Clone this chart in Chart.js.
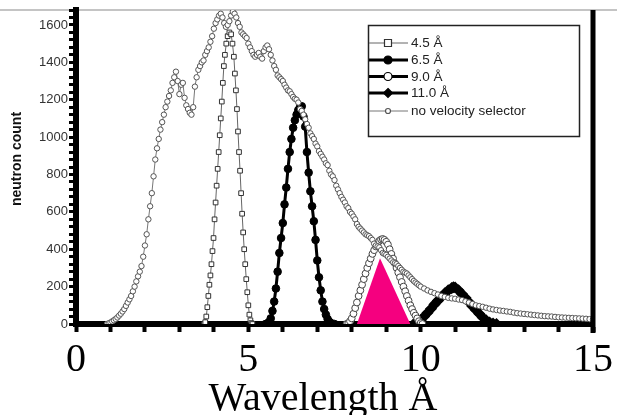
<!DOCTYPE html>
<html>
<head>
<meta charset="utf-8">
<script src="https://cdn.jsdelivr.net/npm/chart.js@4.4.1/dist/chart.umd.min.js"></script>
<style>
  html, body { margin: 0; padding: 0; background: #fff; }
  #wrap { width: 617px; height: 415px; }
</style>
</head>
<body>
<div id="wrap"><canvas id="chart" width="617" height="415"></canvas></div>
<script>
// ── Data ────────────────────────────────────────────────────────────────────
const xTickLabels = [0, 5, 10, 15];
const yTickLabels = [0, 200, 400, 600, 800, 1000, 1200, 1400, 1600];

const legendLabels = ['4.5 Å', '6.5 Å', '9.0 Å', '11.0 Å', 'no velocity selector'];

// no velocity selector
const noSelX = [0.9, 0.95, 1.0, 1.05, 1.1, 1.15, 1.2, 1.25, 1.3, 1.35, 1.4, 1.45, 1.5, 1.55, 1.6, 1.65, 1.7, 1.75, 1.8, 1.85,
  1.9, 1.95, 2.0, 2.05, 2.1, 2.15, 2.2, 2.25, 2.3, 2.35, 2.4, 2.45, 2.5, 2.55, 2.6, 2.65, 2.7, 2.75, 2.8, 2.85,
  2.9, 2.95, 3.0, 3.05, 3.1, 3.15, 3.2, 3.25, 3.3, 3.35, 3.4, 3.45, 3.5, 3.55, 3.6, 3.65, 3.7, 3.75, 3.8, 3.85,
  3.9, 3.95, 4.0, 4.05, 4.1, 4.15, 4.2, 4.25, 4.3, 4.35, 4.4, 4.45, 4.5, 4.55, 4.6, 4.65, 4.7, 4.75, 4.8, 4.85,
  4.9, 4.95, 5.0, 5.05, 5.1, 5.15, 5.2, 5.25, 5.3, 5.35, 5.4, 5.45, 5.5, 5.55, 5.6, 5.65, 5.7, 5.75, 5.8, 5.85,
  5.9, 5.95, 6.0, 6.05, 6.1, 6.15, 6.2, 6.25, 6.3, 6.35, 6.4, 6.45, 6.5, 6.55, 6.6, 6.65, 6.7, 6.75, 6.8, 6.85,
  6.9, 6.95, 7.0, 7.05, 7.1, 7.15, 7.2, 7.25, 7.3, 7.35, 7.4, 7.45, 7.5, 7.55, 7.6, 7.65, 7.7, 7.75, 7.8, 7.85,
  7.9, 7.95, 8.0, 8.05, 8.1, 8.15, 8.2, 8.25, 8.3, 8.35, 8.4, 8.45, 8.5, 8.55, 8.6, 8.65, 8.7, 8.75, 8.8, 8.85,
  8.9, 8.95, 9.0, 9.05, 9.1, 9.15, 9.2, 9.25, 9.3, 9.35, 9.4, 9.45, 9.5, 9.55, 9.6, 9.65, 9.7, 9.75, 9.8, 9.85,
  9.9, 9.95, 10.0, 10.1, 10.2, 10.3, 10.4, 10.5, 10.6, 10.7, 10.8, 10.9, 11.0, 11.1, 11.2, 11.3, 11.4, 11.5, 11.6, 11.7,
  11.8, 11.9, 12.0, 12.1, 12.2, 12.3, 12.4, 12.5, 12.6, 12.7, 12.8, 12.9, 13.0, 13.1, 13.2, 13.3, 13.4, 13.5, 13.6, 13.7,
  13.8, 13.9, 14.0, 14.1, 14.2, 14.3, 14.4, 14.5, 14.6, 14.7, 14.8, 14.9, 15.0];
const noSelY = [0, 4, 8, 14, 20, 27, 35, 45, 55, 67, 80, 97, 115, 132, 150, 175, 200, 228, 255, 280,
  310, 360, 420, 480, 560, 630, 700, 790, 880, 940, 990, 1040, 1080, 1120, 1160, 1190, 1220, 1250, 1290, 1320,
  1350, 1300, 1230, 1280, 1290, 1210, 1170, 1150, 1130, 1120, 1160, 1270, 1320, 1360, 1380, 1400, 1410, 1440, 1460, 1480,
  1510, 1540, 1580, 1610, 1630, 1650, 1660, 1640, 1610, 1590, 1600, 1620, 1650, 1670, 1660, 1640, 1610, 1590, 1560, 1550,
  1540, 1530, 1500, 1480, 1460, 1440, 1430, 1440, 1450, 1430, 1420, 1460, 1480, 1490, 1470, 1440, 1410, 1380, 1360, 1330,
  1320, 1310, 1300, 1280, 1265, 1250, 1245, 1230, 1215, 1205, 1200, 1185, 1150, 1140, 1120, 1095, 1070, 1050, 1020, 1005,
  990, 965, 950, 925, 910, 895, 880, 860, 850, 820, 800, 790, 770, 740, 720, 700, 680, 665, 650, 630,
  620, 600, 590, 575, 560, 535, 520, 510, 500, 490, 480, 475, 470, 460, 450, 430, 420, 415, 410, 395,
  380, 375, 370, 360, 350, 340, 330, 325, 320, 310, 300, 290, 280, 275, 270, 260, 250, 240, 230, 222,
  215, 207, 200, 190, 180, 172, 165, 158, 150, 145, 140, 137, 135, 131, 128, 121, 115, 107, 100, 96,
  92, 87, 82, 78, 75, 72, 70, 67, 65, 61, 58, 56, 54, 52, 50, 48, 46, 44, 42, 41,
  40, 38, 36, 35, 34, 33, 32, 31, 30, 29, 28, 26, 25];

// 4.5 Å selector
const sel45X = [3.72, 3.75, 3.78, 3.81, 3.84, 3.87, 3.90, 3.93, 3.96, 3.99, 4.02, 4.05, 4.08, 4.11, 4.14, 4.17, 4.20, 4.23, 4.26, 4.29,
  4.32, 4.36, 4.40, 4.45, 4.50, 4.54, 4.58, 4.61, 4.64, 4.67, 4.70, 4.73, 4.76, 4.79, 4.82, 4.85, 4.88, 4.91, 4.94, 4.97,
  5.00, 5.03, 5.06, 5.09, 5.12];
const sel45Y = [0, 10, 40, 90, 150, 210, 260, 320, 390, 460, 560, 650, 740, 830, 920, 1010, 1100, 1190, 1290, 1380,
  1440, 1500, 1540, 1560, 1550, 1500, 1430, 1340, 1250, 1150, 1030, 920, 820, 700, 590, 490, 400, 320, 240, 170,
  100, 50, 20, 5, 0];

// 6.5 Å selector
const sel65X = [5.5, 5.55, 5.6, 5.65, 5.7, 5.75, 5.8, 5.85, 5.9, 5.95, 6.0, 6.05, 6.1, 6.15, 6.2, 6.25, 6.3, 6.35, 6.4, 6.45,
  6.5, 6.55, 6.6, 6.65, 6.7, 6.75, 6.8, 6.85, 6.9, 6.95, 7.0, 7.05, 7.1, 7.15, 7.2, 7.25, 7.3, 7.35, 7.4, 7.5];
const sel65Y = [0, 3, 10, 30, 70, 120, 190, 280, 380, 460, 540, 640, 730, 830, 920, 990, 1050, 1090, 1120, 1145,
  1160, 1165, 1110, 1056, 920, 810, 710, 630, 550, 450, 340, 250, 180, 120, 80, 50, 27, 12, 5, 0];

// 9.0 Å selector
const sel90X = [7.85, 7.9, 7.95, 8.0, 8.05, 8.1, 8.15, 8.2, 8.25, 8.3, 8.35, 8.4, 8.45, 8.5, 8.55, 8.6, 8.65, 8.7, 8.75, 8.8,
  8.85, 8.9, 8.95, 9.0, 9.05, 9.1, 9.15, 9.2, 9.25, 9.3, 9.35, 9.4, 9.45, 9.5, 9.55, 9.6, 9.65, 9.7, 9.75, 9.8,
  9.85, 9.9, 9.95, 10.0, 10.05];
const sel90Y = [0, 5, 15, 30, 55, 85, 115, 150, 180, 210, 240, 270, 300, 325, 350, 375, 395, 415, 430, 445,
  452, 455, 450, 440, 425, 400, 375, 350, 325, 300, 275, 250, 225, 200, 175, 150, 125, 100, 80, 60,
  45, 30, 15, 5, 0];

// shaded region under the 9.0 Å peak
const shadeX = [8.15, 8.82, 9.7];
const shadeY = [0, 352, 0];

// 11.0 Å selector
const sel110X = [9.8, 9.9, 10.0, 10.1, 10.2, 10.3, 10.4, 10.5, 10.6, 10.7, 10.8, 10.9, 10.95, 11.0, 11.1, 11.2, 11.3, 11.4, 11.5, 11.6,
  11.7, 11.8, 11.9, 12.0, 12.1, 12.2];
const sel110Y = [0, 5, 20, 40, 60, 82, 105, 125, 145, 165, 180, 192, 197, 195, 180, 160, 140, 118, 95, 75,
  55, 35, 20, 8, 3, 0];

// ── Helpers ─────────────────────────────────────────────────────────────────
function pts(xs, ys) { return xs.map((x, i) => ({ x, y: ys[i] })); }

const SANS = '"Liberation Sans", Arial, sans-serif';
const SERIF = '"Liberation Serif", "Times New Roman", serif';

// legend entries: line + marker styles
const legendStyles = [
  { line: '#666', lw: 1, marker: 'rect', fill: '#fff', stroke: '#333', r: 3.5 },
  { line: '#000', lw: 3, marker: 'circle', fill: '#000', stroke: '#000', r: 4 },
  { line: '#000', lw: 3, marker: 'circle', fill: '#fff', stroke: '#000', r: 4 },
  { line: '#000', lw: 3, marker: 'diamond', fill: '#000', stroke: '#000', r: 4.5 },
  { line: '#777', lw: 1, marker: 'circle', fill: '#fff', stroke: '#555', r: 2.5 }
];

function drawMarker(ctx, type, x, y, r, fill, stroke) {
  ctx.beginPath();
  if (type === 'rect') ctx.rect(x - r, y - r, 2 * r, 2 * r);
  else if (type === 'diamond') { ctx.moveTo(x, y - r); ctx.lineTo(x + r, y); ctx.lineTo(x, y + r); ctx.lineTo(x - r, y); ctx.closePath(); }
  else ctx.arc(x, y, r, 0, Math.PI * 2);
  ctx.fillStyle = fill; ctx.fill();
  ctx.lineWidth = 1.2; ctx.strokeStyle = stroke; ctx.stroke();
}

const decorPlugin = {
  id: 'decor',
  beforeDraw(chart) {
    const ctx = chart.ctx;
    ctx.save();
    ctx.fillStyle = '#fff';
    ctx.fillRect(0, 0, chart.width, chart.height);
    ctx.strokeStyle = '#b0b0b0';
    ctx.lineWidth = 1.5;
    ctx.beginPath(); ctx.moveTo(0, 10); ctx.lineTo(chart.width, 10); ctx.stroke();
    ctx.restore();
  },
  afterDraw(chart) {
    const ctx = chart.ctx;
    const a = chart.chartArea;
    ctx.save();
    // right frame
    ctx.strokeStyle = '#000';
    ctx.lineWidth = 5;
    ctx.beginPath(); ctx.moveTo(a.right, 10); ctx.lineTo(a.right, a.bottom + 9); ctx.stroke();

    // axis titles
    ctx.fillStyle = '#000';
    ctx.font = '40px ' + SERIF;
    ctx.textAlign = 'center';
    ctx.textBaseline = 'alphabetic';
    ctx.fillText('Wavelength Å', 323, 410);

    ctx.save();
    ctx.translate(17, 159);
    ctx.rotate(-Math.PI / 2);
    ctx.font = 'bold 14px ' + SANS;
    ctx.textBaseline = 'middle';
    ctx.fillStyle = '#111';
    ctx.fillText('neutron count', 0, 0);
    ctx.restore();

    // legend box
    ctx.strokeStyle = '#222';
    ctx.lineWidth = 1.5;
    ctx.strokeRect(368.5, 25.5, 211, 111);
    const rows = [43, 60, 76.5, 93, 111];
    ctx.font = '13.5px ' + SANS;
    ctx.textAlign = 'left';
    ctx.textBaseline = 'middle';
    legendLabels.forEach((lab, i) => {
      const s = legendStyles[i], y = rows[i];
      ctx.strokeStyle = s.line; ctx.lineWidth = s.lw;
      ctx.beginPath(); ctx.moveTo(369, y); ctx.lineTo(408, y); ctx.stroke();
      drawMarker(ctx, s.marker, 388, y, s.r, s.fill, s.stroke);
      ctx.fillStyle = '#222';
      ctx.fillText(lab, 411, y + 0.5);
    });
    ctx.restore();
  }
};

new Chart(document.getElementById('chart').getContext('2d'), {
  type: 'line',
  data: {
    datasets: [
      {
        label: legendLabels[4], data: pts(noSelX, noSelY), order: 1,
        borderColor: '#777', borderWidth: 1,
        pointRadius: 2.7, pointBackgroundColor: '#fff', pointBorderColor: '#555', pointBorderWidth: 1
      },
      {
        label: legendLabels[0], data: pts(sel45X, sel45Y), order: 2,
        borderColor: '#666', borderWidth: 1,
        pointStyle: 'rect', pointRadius: 3.3, pointBackgroundColor: '#fff', pointBorderColor: '#333', pointBorderWidth: 1
      },
      {
        label: legendLabels[1], data: pts(sel65X, sel65Y), order: 3,
        borderColor: '#000', borderWidth: 3,
        pointRadius: 3.8, pointBackgroundColor: '#000', pointBorderColor: '#000', pointBorderWidth: 1
      },
      {
        label: 'shade', data: pts(shadeX, shadeY), order: 0,
        borderWidth: 0, borderColor: 'rgba(0,0,0,0)', backgroundColor: '#f5007f',
        fill: 'origin', pointRadius: 0, tension: 0
      },
      {
        label: legendLabels[2], data: pts(sel90X, sel90Y), order: 4,
        borderColor: '#555', borderWidth: 1,
        pointRadius: 3.4, pointBackgroundColor: '#fff', pointBorderColor: '#444', pointBorderWidth: 1
      },
      {
        label: legendLabels[3], data: pts(sel110X, sel110Y), order: 5,
        borderColor: '#000', borderWidth: 5,
        pointStyle: 'rectRot', pointRadius: 2.5, pointBackgroundColor: '#000', pointBorderColor: '#000'
      }
    ]
  },
  options: {
    responsive: false,
    animation: false,
    events: [],
    layout: { padding: { top: 10, right: 21, left: 0, bottom: 0 } },
    plugins: { legend: { display: false }, tooltip: { enabled: false } },
    scales: {
      x: {
        type: 'linear', min: 0, max: 15,
        afterFit: s => { s.height = 91; },
        border: { color: '#000', width: 6 },
        grid: { drawOnChartArea: false, tickLength: 8, tickWidth: 4, tickColor: '#000' },
        ticks: {
          stepSize: 1, autoSkip: false, maxRotation: 0, padding: 4,
          color: '#000', font: { family: SERIF, size: 40 },
          callback: v => xTickLabels.includes(v) ? String(v) : ''
        }
      },
      y: {
        min: 0, max: 1680,
        afterFit: s => { s.width = 76; },
        border: { color: '#000', width: 6 },
        grid: { drawOnChartArea: false, tickLength: 7, tickWidth: 3, tickColor: '#000' },
        ticks: {
          stepSize: 40, autoSkip: false, padding: 1,
          color: '#333', font: { family: SANS, size: 13 },
          callback: v => yTickLabels.includes(v) ? String(v) : ''
        }
      }
    }
  },
  plugins: [decorPlugin]
});
</script>
</body>
</html>
